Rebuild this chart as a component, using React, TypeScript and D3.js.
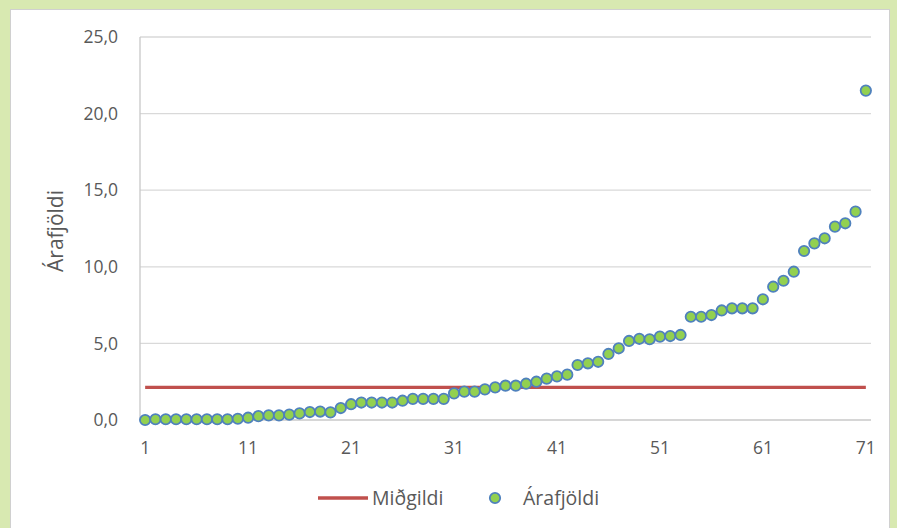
import React from "react";
import * as d3 from "d3";

const categories: number[] = d3.range(1, 72);
const arafjoldi: number[] = [
  0.0, 0.05, 0.05, 0.05, 0.05, 0.05, 0.05, 0.05, 0.05, 0.08,
  0.15, 0.25, 0.3, 0.3, 0.35, 0.43, 0.52, 0.55, 0.5, 0.78,
  1.03, 1.14, 1.14, 1.14, 1.14, 1.26, 1.38, 1.38, 1.38, 1.38,
  1.74, 1.85, 1.85, 2.0, 2.13, 2.24, 2.24, 2.37, 2.5, 2.7,
  2.85, 2.96, 3.59, 3.7, 3.8, 4.31, 4.68, 5.16, 5.3, 5.27,
  5.44, 5.48, 5.55, 6.74, 6.74, 6.85, 7.15, 7.29, 7.29, 7.29,
  7.88, 8.7, 9.09, 9.68, 11.03, 11.53, 11.86, 12.62, 12.84, 13.6,
  21.5,
];
const midgildi = 2.13;
const yTicks: number[] = [0, 5, 10, 15, 20, 25];
const xTickLabels: number[] = [1, 11, 21, 31, 41, 51, 61, 71];
const seriesNames = ["Miðgildi", "Árafjöldi"];
const yTitle = "Árafjöldi";

const W = 897;
const H = 528;
const FONT = "'Open Sans', sans-serif";
const TEXT = "#595959";

export default function App() {
  const x = d3.scalePoint<number>().domain(categories).range([140, 871]).padding(0.5);
  const y = d3.scaleLinear().domain([0, 25]).range([420, 37]);
  const fmt = (v: number) => v.toFixed(1).replace(".", ",");
  const medLine = d3
    .line<number>()
    .x((c) => x(c) as number)
    .y(() => y(midgildi));

  return (
    <svg
      width={W}
      height={H}
      style={{ position: "absolute", left: 0, top: 0, display: "block" }}
      fontFamily={FONT}
    >
      <rect x={0} y={0} width={W} height={H} fill="#D8E9B1" />
      <rect x={10.5} y={9.5} width={879} height={530} fill="#FFFFFF" stroke="#D0D0D0" />
      {yTicks.map((t) => (
        <g key={t}>
          {t > 0 && (
            <line x1={140} x2={871} y1={y(t)} y2={y(t)} stroke="#D9D9D9" strokeWidth={1.3} />
          )}
          <text x={118} y={y(t)} dy="0.35em" textAnchor="end" fontSize={17.5} fill={TEXT}>
            {fmt(t)}
          </text>
        </g>
      ))}
      <line x1={140} x2={140} y1={37} y2={420} stroke="#C8C8C8" strokeWidth={1.3} />
      <line x1={140} x2={871} y1={420} y2={420} stroke="#C8C8C8" strokeWidth={1.3} />
      {xTickLabels.map((c) => (
        <text key={c} x={x(c)} y={448} dy="0.35em" textAnchor="middle" fontSize={17.5} fill={TEXT}>
          {c}
        </text>
      ))}
      <text
        transform={`translate(56,231) rotate(-90)`}
        textAnchor="middle"
        dy="0.35em"
        fontSize={21}
        fill={TEXT}
      >
        {yTitle}
      </text>
      <path d={medLine(categories) || ""} fill="none" stroke="#C0504D" strokeWidth={3.4} />
      {arafjoldi.map((v, i) => (
        <circle
          key={i}
          cx={x(categories[i])}
          cy={y(v)}
          r={5.2}
          fill="#92D050"
          stroke="#4F81BD"
          strokeWidth={1.8}
        />
      ))}
      <g>
        <line x1={318} x2={368} y1={498} y2={498} stroke="#C0504D" strokeWidth={3.4} />
        <text x={372} y={498} dy="0.35em" fontSize={19.5} fill={TEXT}>
          {seriesNames[0]}
        </text>
        <circle cx={495} cy={498} r={5.2} fill="#92D050" stroke="#4F81BD" strokeWidth={1.8} />
        <text x={523} y={498} dy="0.35em" fontSize={19.5} fill={TEXT}>
          {seriesNames[1]}
        </text>
      </g>
    </svg>
  );
}
